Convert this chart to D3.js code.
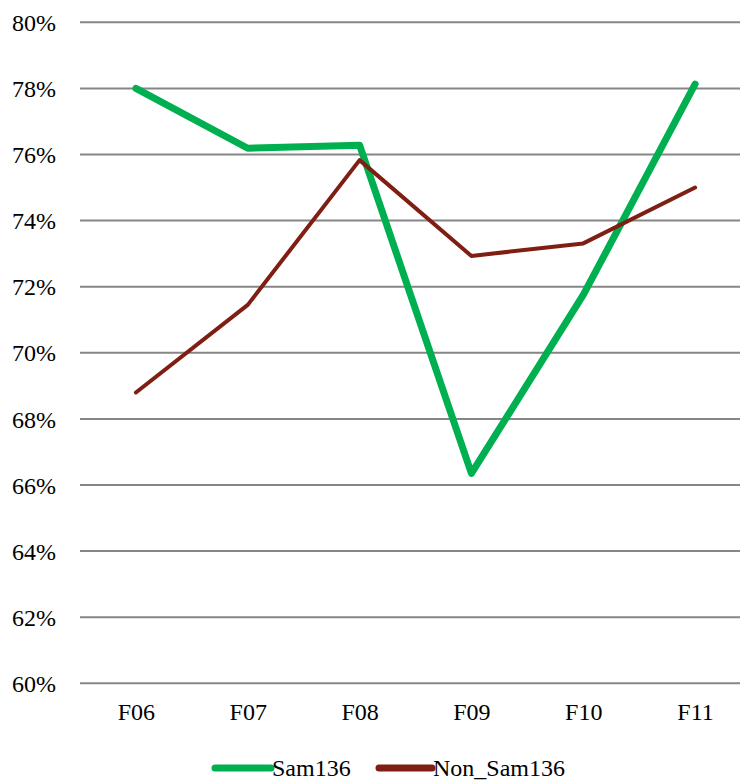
<!DOCTYPE html>
<html>
<head>
<meta charset="utf-8">
<script src="https://cdn.jsdelivr.net/npm/d3@7"></script>
<style>
  html, body { margin: 0; padding: 0; background: #fff; }
  svg { display: block; }
  text { font-family: "Times New Roman", Tinos, "Liberation Serif", Times, serif; fill: #000; }
</style>
</head>
<body>
<svg id="chart" width="740" height="781"></svg>
<script>
// Fiscal years on the x axis
const categories = ["F06", "F07", "F08", "F09", "F10", "F11"];
// Share per year (%) for each group
const sam136 = [78.0, 76.19, 76.28, 66.35, 71.75, 78.13];
const nonSam136 = [68.8, 71.45, 75.83, 72.93, 73.31, 75.0];
// Y axis ticks (%)
const yTicks = [60, 62, 64, 66, 68, 70, 72, 74, 76, 78, 80];

const seriesList = [
  { name: "Sam136", values: sam136, color: "#00B050", width: 7 },
  { name: "Non_Sam136", values: nonSam136, color: "#7F1E12", width: 4 }
];

const svg = d3.select("#chart");
const plotLeft = 80, plotRight = 751, plotTop = 22.3, plotBottom = 683.3;

const x = d3.scalePoint().domain(categories).range([plotLeft, plotRight]).padding(0.5);
const y = d3.scaleLinear().domain([60, 80]).range([plotBottom, plotTop]);

// Horizontal gridlines
svg.append("g").selectAll("line").data(yTicks).join("line")
  .attr("x1", plotLeft).attr("x2", plotRight)
  .attr("y1", d => y(d)).attr("y2", d => y(d))
  .attr("stroke", "#868686").attr("stroke-width", 2);

// Y axis labels
const yAxis = d3.axisLeft(y).tickValues(yTicks).tickSize(0).tickPadding(0)
  .tickFormat(d => d + "%");
svg.append("g").attr("transform", "translate(56,0)").call(yAxis)
  .call(g => g.select(".domain").remove())
  .call(g => g.attr("font-family", null))
  .call(g => g.selectAll("text").attr("font-size", 24)
    .attr("fill", "#000").attr("dy", "0.34em"));

// X axis labels
const xAxis = d3.axisBottom(x).tickSize(0).tickPadding(0);
svg.append("g").attr("transform", "translate(0,703)").call(xAxis)
  .call(g => g.select(".domain").remove())
  .call(g => g.attr("font-family", null))
  .call(g => g.selectAll("text").attr("font-size", 24)
    .attr("fill", "#000"));

// Series lines
const line = d3.line().x((d, i) => x(categories[i])).y(d => y(d));
svg.append("g").selectAll("path").data(seriesList).join("path")
  .attr("d", s => line(s.values))
  .attr("fill", "none")
  .attr("stroke", s => s.color)
  .attr("stroke-width", s => s.width)
  .attr("stroke-linecap", "round")
  .attr("stroke-linejoin", "round");

// Legend
const legendItems = [
  { s: seriesList[0], x1: 215, x2: 271 },
  { s: seriesList[1], x1: 379, x2: 432 }
];
const lg = svg.append("g");
lg.selectAll("line").data(legendItems).join("line")
  .attr("x1", d => d.x1).attr("x2", d => d.x2)
  .attr("y1", 768).attr("y2", 768)
  .attr("stroke", d => d.s.color).attr("stroke-width", 7)
  .attr("stroke-linecap", "round");
lg.selectAll("text").data(legendItems).join("text")
  .attr("x", d => d.x2 + 1).attr("y", 768).attr("dy", "0.34em")
  .attr("font-size", 24)
  .text(d => d.s.name);
</script>
</body>
</html>
